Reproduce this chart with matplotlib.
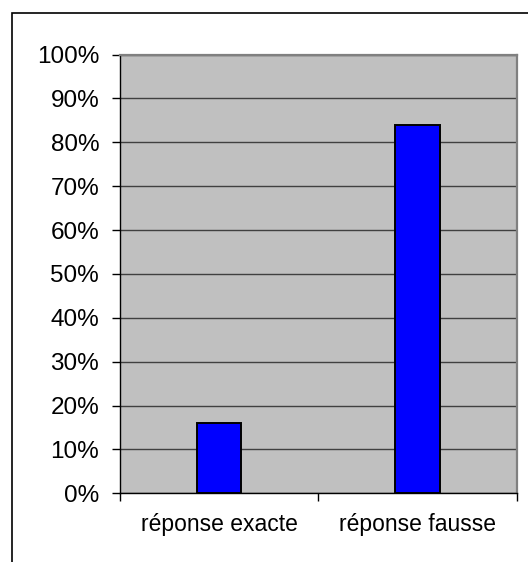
import matplotlib.pyplot as plt
from matplotlib.patches import Rectangle
from matplotlib.ticker import FixedLocator, PercentFormatter

plt.rcParams['font.family'] = ['Liberation Sans', 'DejaVu Sans']

categories = ['réponse exacte', 'réponse fausse']
values = [16, 84]

W, H = 528, 562
fig = plt.figure(figsize=(W / 100, H / 100), dpi=100)

# cadre autour du graphique (ouvert à droite et en bas)
fig.patches.append(Rectangle((12 / W, -0.1), 2, 1 - 13 / H + 0.1,
                             transform=fig.transFigure, fill=False,
                             edgecolor='black', linewidth=1.2))

ax = fig.add_axes([120 / W, 1 - 493.3 / H, 396.7 / W, 438.8 / H])
ax.set_facecolor('#c0c0c0')

x = range(len(categories))
ax.bar(x, values, width=0.225, color='#0000ff', edgecolor='black',
       linewidth=1.4, zorder=3)

ax.set_xlim(-0.5, len(categories) - 0.5)
ax.set_ylim(0, 100)

ax.yaxis.set_major_locator(FixedLocator(range(0, 101, 10)))
ax.yaxis.set_major_formatter(PercentFormatter(decimals=0))
ax.grid(axis='y', color='#404040', linewidth=1.0, zorder=1)
ax.set_axisbelow(True)

ax.set_xticks(list(x))
ax.set_xticklabels(categories)
ax.set_xticks([-0.5, 0.5, 1.5], minor=True)
ax.tick_params(axis='x', which='major', length=0, pad=14, labelsize=16.5)
ax.tick_params(axis='x', which='minor', length=5.5, width=1, color='black')
ax.tick_params(axis='y', which='major', length=6, width=1, pad=9,
               labelsize=17.5, color='black')

ax.spines['left'].set_color('black')
ax.spines['bottom'].set_color('black')
ax.spines['left'].set_linewidth(1)
ax.spines['bottom'].set_linewidth(1)
ax.spines['top'].set_color('#808080')
ax.spines['right'].set_color('#808080')
ax.spines['top'].set_linewidth(1.6)
ax.spines['right'].set_linewidth(1.6)

fig.savefig('out.png', dpi=100)
